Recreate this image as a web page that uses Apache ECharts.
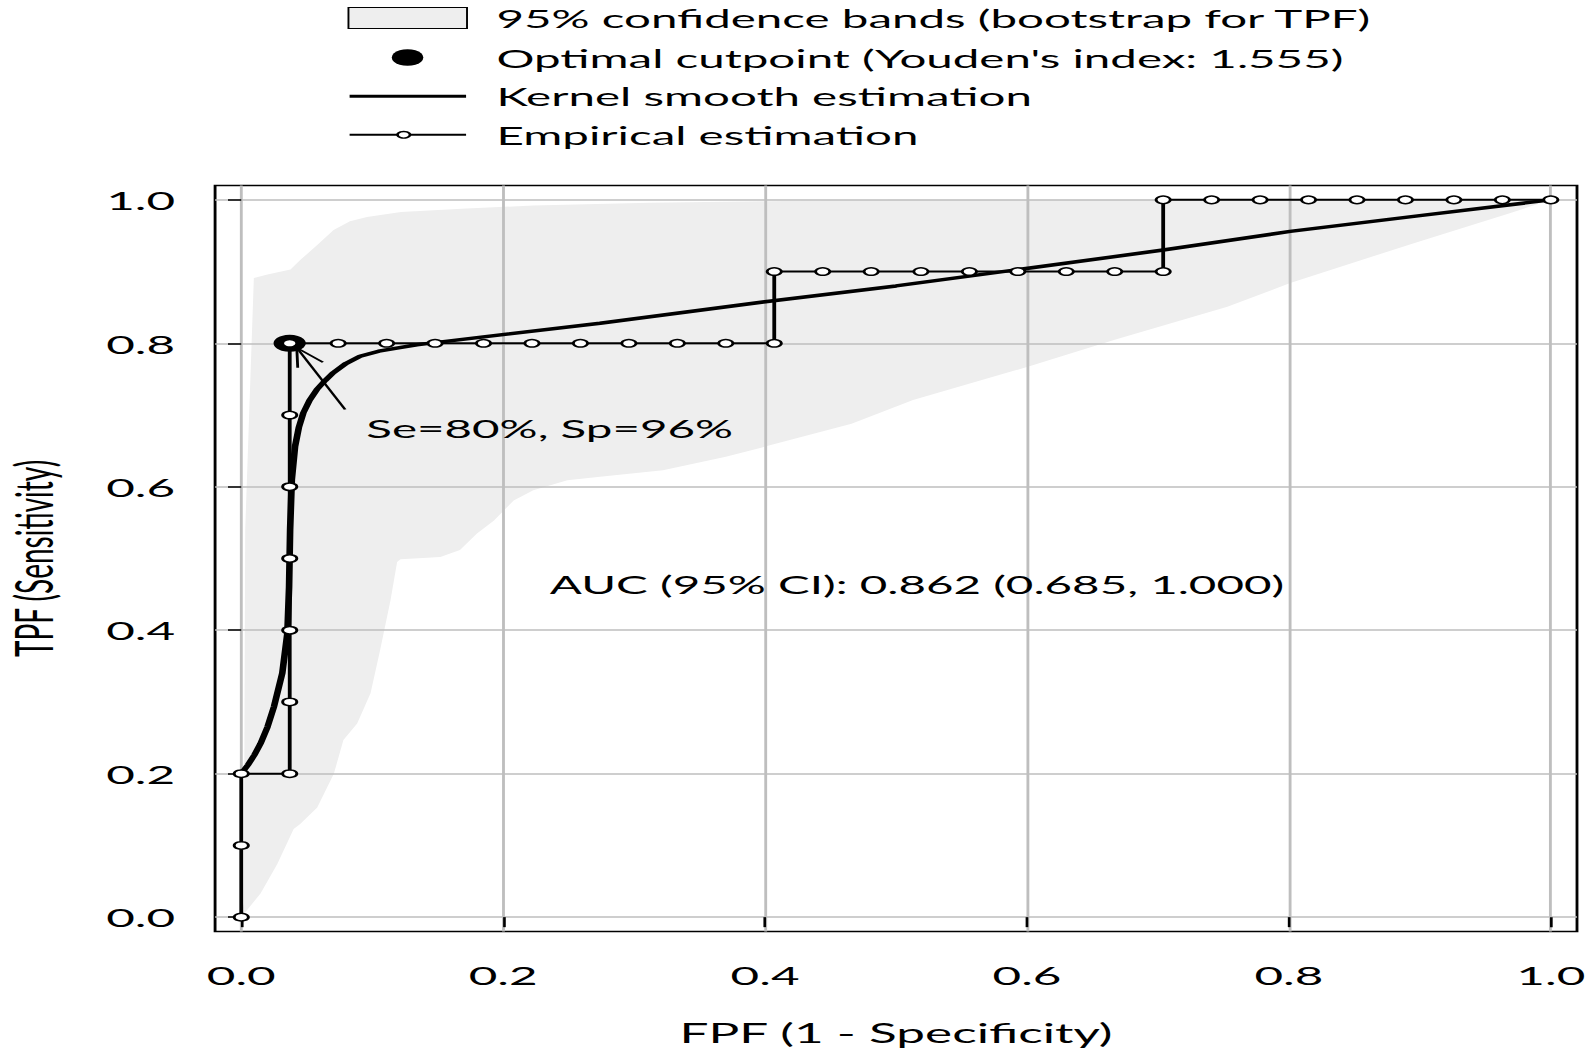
<!DOCTYPE html>
<html>
<head>
<meta charset="utf-8">
<script src="https://cdn.jsdelivr.net/npm/echarts@6/dist/echarts.min.js"></script>
<style>
html, body { margin: 0; padding: 0; background: #fff; overflow: hidden; width: 1589px; height: 1053px; }
#wrap { width: 1589px; height: 1053px; overflow: hidden; }
#chart { width: 836px; height: 1053px; transform: scaleX(1.9); transform-origin: 0 0; }
</style>
</head>
<body>
<div id="wrap"><div id="chart"></div></div>
<script>
// ---------- data ----------
const tickValues = [0, 0.2, 0.4, 0.6, 0.8, 1.0];
const tickLabels = ['0.0', '0.2', '0.4', '0.6', '0.8', '1.0'];

// Empirical ROC (FPF, TPF)
const empFPF = [0, 0, 0, 0.037, 0.037, 0.037, 0.037, 0.037, 0.037, 0.037,
  0.074, 0.111, 0.148, 0.185, 0.222, 0.259, 0.296, 0.333, 0.370, 0.407,
  0.407, 0.444, 0.481, 0.519, 0.556, 0.593, 0.630, 0.667, 0.704,
  0.704, 0.741, 0.778, 0.815, 0.852, 0.889, 0.926, 0.963, 1.0];
const empTPF = [0, 0.1, 0.2, 0.2, 0.3, 0.4, 0.5, 0.6, 0.7, 0.8,
  0.8, 0.8, 0.8, 0.8, 0.8, 0.8, 0.8, 0.8, 0.8, 0.8,
  0.9, 0.9, 0.9, 0.9, 0.9, 0.9, 0.9, 0.9, 0.9,
  1.0, 1.0, 1.0, 1.0, 1.0, 1.0, 1.0, 1.0, 1.0];

// Kernel smooth ROC
const kerFPF = [0, 0.005, 0.010, 0.0147, 0.020, 0.0249, 0.0313, 0.0352, 0.0365, 0.0373, 0.0386, 0.0411,
  0.044, 0.0474, 0.052, 0.0577, 0.064, 0.0703, 0.080, 0.0907, 0.105, 0.121, 0.134, 0.148,
  0.274, 0.4, 0.5, 0.59, 0.704, 0.801, 0.9, 1.0];
const kerTPF = [0.2, 0.212, 0.226, 0.242, 0.265, 0.293, 0.340, 0.396, 0.46, 0.540, 0.610, 0.6565,
  0.683, 0.703, 0.720, 0.7355, 0.748, 0.759, 0.772, 0.782, 0.789, 0.794, 0.798, 0.801,
  0.828, 0.858, 0.880, 0.902, 0.930, 0.956, 0.978, 1.0];

// 95% confidence band (bootstrap for TPF)
const bandUpperFPF = [0, 0.002, 0.0025, 0.003, 0.006, 0.0096, 0.02, 0.0376, 0.045, 0.058, 0.0705,
  0.083, 0.096, 0.122, 0.172, 0.223, 0.312, 0.4, 0.5, 1.0];
const bandUpperTPF = [0, 0.02, 0.3, 0.54, 0.70, 0.891, 0.896, 0.903, 0.916, 0.937, 0.958,
  0.970, 0.976, 0.983, 0.988, 0.992, 0.996, 0.998, 1.0, 1.0];
const bandLowerFPF = [0, 0.0147, 0.0275, 0.040, 0.045, 0.058, 0.0656, 0.0707, 0.078, 0.0885, 0.0987,
  0.106, 0.114, 0.119, 0.1216, 0.152, 0.167, 0.180, 0.193, 0.208, 0.223, 0.249, 0.274, 0.322,
  0.370, 0.4, 0.466, 0.513, 0.6, 0.667, 0.753, 0.801, 0.896, 0.968, 1.0];
const bandLowerTPF = [0, 0.033, 0.074, 0.123, 0.130, 0.153, 0.181, 0.200, 0.247, 0.270, 0.312,
  0.372, 0.442, 0.495, 0.499, 0.502, 0.512, 0.535, 0.553, 0.581, 0.595, 0.609, 0.614, 0.623,
  0.642, 0.656, 0.688, 0.721, 0.767, 0.805, 0.851, 0.884, 0.940, 0.981, 1.0];

// Optimal cutpoint
const cutFPF = [0.037];
const cutTPF = [0.8];

// Annotations
const arrowFrom = [0.0793, 0.7077];
const arrowTo = [0.0424, 0.7937];
const annotTexts = ['Se=80%, Sp=96%', 'AUC (95% CI): 0.862 (0.685, 1.000)'];
const annotFPF = [0.0955, 0.516];
const annotTPF = [0.681, 0.4637];

const legendNames = [
  '95% confidence bands (bootstrap for TPF)',
  "Optimal cutpoint (Youden's index: 1.555)",
  'Kernel smooth estimation',
  'Empirical estimation'
];
const xTitle = 'FPF (1 - Specificity)';
const yTitle = 'TPF (Sensitivity)';

// ---------- chart ----------
const FONT = 'Lato';
const FS = 25;
const zip = (a, b) => a.map((v, i) => [v, b[i]]);

const chart = echarts.init(document.getElementById('chart'), null, { renderer: 'svg' });

const axisCommon = {
  type: 'value',
  min: -0.02,
  max: 1.02,
  z: 2,
  axisLine: { show: false },
  axisTick: { show: true, customValues: tickValues, lineStyle: { color: '#000', width: 1.4 } },
  axisLabel: {
    customValues: tickValues,
    formatter: v => tickLabels[tickValues.findIndex(t => Math.abs(t - v) < 1e-9)],
    color: '#000', fontFamily: FONT, fontSize: 26, lineHeight: 30
  },
  splitLine: { show: true, lineStyle: { color: '#bebebe', width: 1.5 } },
  nameLocation: 'middle'
};

const legendFont = FS + 'px ' + FONT;
const legendTextX = 261.3;

const option = {
  backgroundColor: '#fff',
  animation: false,
  grid: {
    left: 113.2, top: 185.5, width: 716.8, height: 746,
    outerBoundsMode: 'none', containLabel: false,
    show: true, borderColor: '#000', borderWidth: 1.5, backgroundColor: 'transparent'
  },
  xAxis: Object.assign({}, axisCommon, {
    name: xTitle, nameGap: 86,
    nameTextStyle: { color: '#000', fontFamily: FONT, fontSize: 27, lineHeight: 30 },
    axisTick: Object.assign({}, axisCommon.axisTick, { length: 10 }),
    axisLabel: Object.assign({}, axisCommon.axisLabel, { margin: 28 })
  }),
  yAxis: Object.assign({}, axisCommon, {
    name: yTitle, nameGap: 81,
    nameTextStyle: { color: '#000', fontFamily: FONT, fontSize: 28, lineHeight: 30 },
    axisTick: Object.assign({}, axisCommon.axisTick, { length: 7, lineStyle: { color: '#000', width: 1.5 } }),
    axisLabel: Object.assign({}, axisCommon.axisLabel, { margin: 21 })
  }),
  graphic: [
    { type: 'rect', left: 182.9, top: 7, shape: { width: 62.4, height: 21 },
      style: { fill: '#eeeeee', stroke: '#000', lineWidth: 1 } },
    { type: 'text', x: legendTextX, y: 18.5, style: { text: legendNames[0], font: legendFont, fill: '#000', verticalAlign: 'middle' } },
    { type: 'circle', shape: { cx: 214.5, cy: 57.5, r: 8.3 }, style: { fill: '#000' } },
    { type: 'text', x: legendTextX, y: 58, style: { text: legendNames[1], font: legendFont, fill: '#000', verticalAlign: 'middle' } },
    { type: 'line', shape: { x1: 184, y1: 96.3, x2: 245.3, y2: 96.3 }, style: { stroke: '#000', lineWidth: 3 } },
    { type: 'text', x: legendTextX, y: 96.5, style: { text: legendNames[2], font: legendFont, fill: '#000', verticalAlign: 'middle' } },
    { type: 'line', shape: { x1: 184, y1: 134.8, x2: 245.3, y2: 134.8 }, style: { stroke: '#000', lineWidth: 2 } },
    { type: 'circle', shape: { cx: 212.5, cy: 134.8, r: 3.3 }, style: { fill: '#fff', stroke: '#000', lineWidth: 1.4 } },
    { type: 'text', x: legendTextX, y: 135, style: { text: legendNames[3], font: legendFont, fill: '#000', verticalAlign: 'middle' } }
  ],
  series: [
    {
      name: legendNames[0],
      type: 'custom',
      z: 1,
      silent: true,
      data: [[0, 0]],
      renderItem: function (params, api) {
        const pts = [];
        for (let i = 0; i < bandUpperFPF.length; i++) pts.push(api.coord([bandUpperFPF[i], bandUpperTPF[i]]));
        for (let i = bandLowerFPF.length - 1; i >= 0; i--) pts.push(api.coord([bandLowerFPF[i], bandLowerTPF[i]]));
        return { type: 'polygon', shape: { points: pts }, style: { fill: '#eeeeee', stroke: null } };
      }
    },
    {
      name: legendNames[2],
      type: 'line',
      z: 3,
      data: zip(kerFPF, kerTPF),
      symbol: 'none',
      clip: false,
      lineStyle: { color: '#000', width: 3.5, join: 'round' }
    },
    {
      name: legendNames[1],
      type: 'scatter',
      z: 4,
      data: zip(cutFPF, cutTPF),
      symbol: 'circle',
      symbolSize: 17,
      itemStyle: { color: '#000', opacity: 1 }
    },
    {
      name: 'annotations',
      type: 'custom',
      z: 4,
      silent: true,
      data: [[arrowFrom[0], arrowFrom[1], arrowTo[0], arrowTo[1]]],
      renderItem: function (params, api) {
        const p0 = api.coord([api.value(0), api.value(1)]);
        const p1 = api.coord([api.value(2), api.value(3)]);
        const ang = Math.atan2(p1[1] - p0[1], p1[0] - p0[0]);
        const L = 20, a = 21 * Math.PI / 180;
        const b1 = [p1[0] - L * Math.cos(ang - a), p1[1] - L * Math.sin(ang - a)];
        const b2 = [p1[0] - L * Math.cos(ang + a), p1[1] - L * Math.sin(ang + a)];
        const t0 = api.coord([annotFPF[0], annotTPF[0]]);
        const t1 = api.coord([annotFPF[1], annotTPF[1]]);
        return {
          type: 'group',
          children: [
            { type: 'line', shape: { x1: p0[0], y1: p0[1], x2: p1[0], y2: p1[1] }, style: { stroke: '#000', lineWidth: 1.5 } },
            { type: 'polyline', shape: { points: [b1, p1, b2] }, style: { stroke: '#000', lineWidth: 1.5, fill: null } },
            { type: 'text', x: t0[0], y: t0[1], style: { text: annotTexts[0], font: legendFont, fill: '#000', align: 'left', verticalAlign: 'middle' } },
            { type: 'text', x: t1[0], y: t1[1], style: { text: annotTexts[1], font: legendFont, fill: '#000', align: 'center', verticalAlign: 'middle' } }
          ]
        };
      }
    },
    {
      name: legendNames[3],
      type: 'line',
      z: 5,
      data: zip(empFPF, empTPF),
      clip: false,
      showAllSymbol: true,
      symbol: 'circle',
      symbolSize: 7.5,
      lineStyle: { color: '#000', width: 2 },
      itemStyle: { color: '#fff', borderColor: '#000', borderWidth: 1.5 }
    }
  ]
};
chart.setOption(option);
</script>
</body>
</html>
